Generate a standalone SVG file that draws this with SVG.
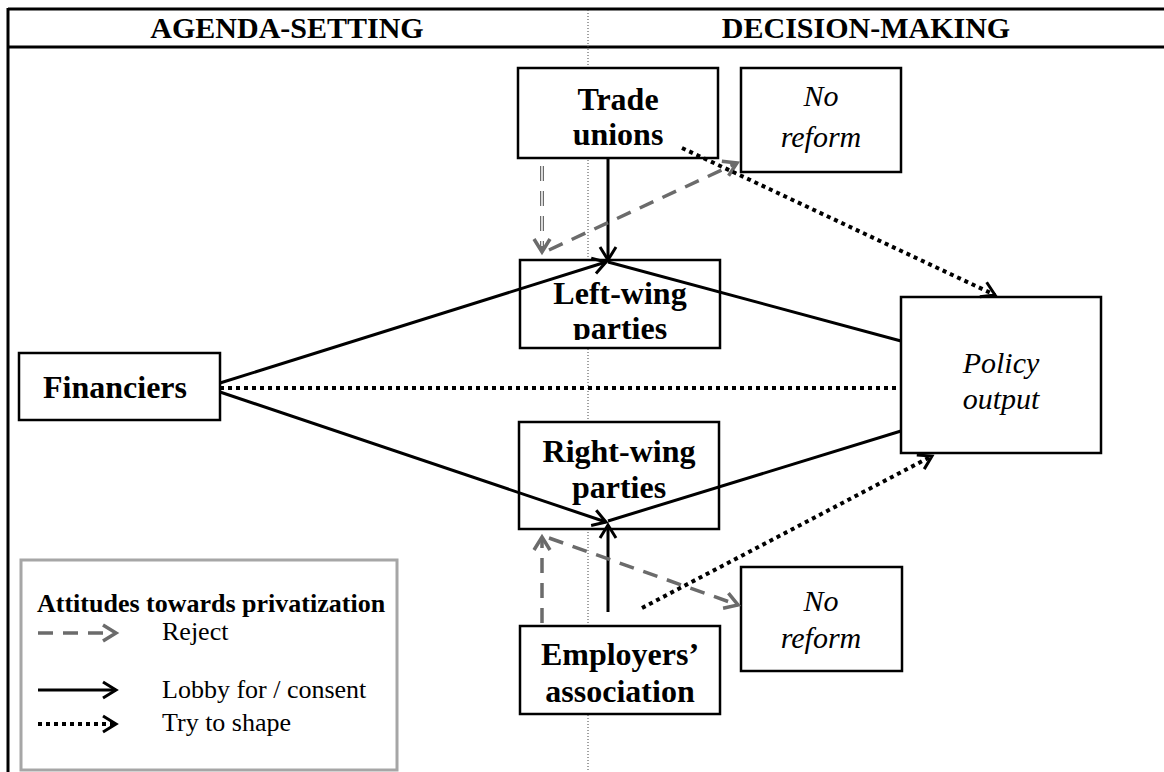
<svg xmlns="http://www.w3.org/2000/svg" width="1164" height="772" viewBox="0 0 1164 772">
  <style>
    .box { fill: #fff; stroke: #000; stroke-width: 2.5; }
    .bold { font-family: "Liberation Serif", "Times New Roman", serif; font-weight: bold; font-size: 32px; fill: #000; text-anchor: middle; }
    .ital { font-family: "Liberation Serif", "Times New Roman", serif; font-style: italic; font-size: 30px; fill: #000; text-anchor: middle; }
    .head { font-family: "Liberation Serif", "Times New Roman", serif; font-weight: bold; font-size: 30px; fill: #000; text-anchor: middle; }
    .leg { font-family: "Liberation Serif", "Times New Roman", serif; font-size: 26px; fill: #000; }
    .legt { font-family: "Liberation Serif", "Times New Roman", serif; font-weight: bold; font-size: 26px; fill: #000; }
    .solid { fill: none; stroke: #000; stroke-width: 3; }
    .dotted { fill: none; stroke: #000; stroke-width: 4; stroke-dasharray: 4 4; }
    .dashed { fill: none; stroke: #6b6b6b; stroke-width: 3.5; stroke-dasharray: 15 10; }
  </style>
  <defs>
    <marker id="ab" viewBox="0 0 20 20" refX="16" refY="10" markerWidth="20" markerHeight="20" markerUnits="userSpaceOnUse" orient="auto">
      <path d="M3,2 L16,10 L3,18" fill="none" stroke="#000" stroke-width="3"/>
    </marker>
    <marker id="ag" viewBox="0 0 20 20" refX="16" refY="10" markerWidth="20" markerHeight="20" markerUnits="userSpaceOnUse" orient="auto">
      <path d="M3,2 L16,10 L3,18" fill="none" stroke="#6b6b6b" stroke-width="3.5"/>
    </marker>
    <clipPath id="lwclip"><rect x="520" y="260" width="200" height="80"/></clipPath>
  </defs>

  <rect x="0" y="0" width="1164" height="772" fill="#fff"/>

  <g id="frame">
    <line x1="8" y1="9" x2="1164" y2="9" stroke="#000" stroke-width="3"/>
    <line x1="8" y1="47" x2="1164" y2="47" stroke="#000" stroke-width="3"/>
    <line x1="8" y1="8" x2="8" y2="772" stroke="#000" stroke-width="3"/>
    <line x1="588" y1="10" x2="588" y2="772" stroke="#444" stroke-width="1" stroke-dasharray="1 2"/>
    <text class="head" x="287" y="38">AGENDA-SETTING</text>
    <text class="head" x="866" y="38">DECISION-MAKING</text>
  </g>

  <g id="trade-unions">
    <rect class="box" x="518" y="68" width="200" height="90"/>
    <text class="bold" x="618" y="110">Trade</text>
    <text class="bold" x="618" y="145">unions</text>
  </g>
  <g id="no-reform-top">
    <rect class="box" x="741" y="68" width="160" height="104"/>
    <text class="ital" x="821" y="106">No</text>
    <text class="ital" x="821" y="147">reform</text>
  </g>
  <g id="left-wing">
    <rect class="box" x="520" y="260" width="200" height="88"/>
    <g clip-path="url(#lwclip)">
      <text class="bold" x="620" y="304">Left-wing</text>
      <text class="bold" x="620" y="339">parties</text>
    </g>
  </g>
  <g id="financiers">
    <rect class="box" x="19" y="353" width="201" height="67"/>
    <text class="bold" x="115" y="398">Financiers</text>
  </g>
  <g id="policy-output">
    <rect class="box" x="901" y="297" width="200" height="156"/>
    <text class="ital" x="1001" y="373">Policy</text>
    <text class="ital" x="1001" y="409">output</text>
  </g>
  <g id="right-wing">
    <rect class="box" x="519" y="422" width="200" height="107"/>
    <text class="bold" x="619" y="462">Right-wing</text>
    <text class="bold" x="619" y="498">parties</text>
  </g>
  <g id="employers">
    <rect class="box" x="520" y="626" width="200" height="88"/>
    <text class="bold" x="620" y="665">Employers’</text>
    <text class="bold" x="620" y="702">association</text>
  </g>
  <g id="no-reform-bottom">
    <rect class="box" x="741" y="567" width="161" height="104"/>
    <text class="ital" x="821" y="611">No</text>
    <text class="ital" x="821" y="648">reform</text>
  </g>

  <g id="connectors">
    <line class="solid" x1="608" y1="158" x2="608" y2="260" marker-end="url(#ab)"/>
    <line x1="542" y1="166" x2="542" y2="252" stroke="#6b6b6b" stroke-width="4" stroke-dasharray="15 10" marker-end="url(#ag)"/>
    <line x1="542" y1="166" x2="542" y2="246" stroke="#fff" stroke-width="1.5" stroke-dasharray="15 10"/>
    <line class="dashed" x1="549" y1="250" x2="737" y2="163" marker-end="url(#ag)"/>
    <line class="dotted" x1="682" y1="148" x2="995" y2="295" marker-end="url(#ab)"/>
    <line class="solid" x1="220" y1="383" x2="606" y2="262" marker-end="url(#ab)"/>
    <line class="solid" x1="608" y1="262" x2="901" y2="341"/>
    <line class="dotted" x1="220" y1="388" x2="901" y2="388"/>
    <line class="solid" x1="220" y1="392" x2="606" y2="522" marker-end="url(#ab)"/>
    <line class="solid" x1="608" y1="521" x2="901" y2="431"/>
    <line class="solid" x1="608" y1="612" x2="608" y2="525" marker-end="url(#ab)"/>
    <line class="dashed" x1="542" y1="623" x2="542" y2="537" marker-end="url(#ag)"/>
    <line class="dashed" x1="549" y1="538" x2="738" y2="605" marker-end="url(#ag)"/>
    <line class="dotted" x1="642" y1="608" x2="932" y2="456" marker-end="url(#ab)"/>
  </g>

  <g id="legend">
    <rect x="21" y="560" width="376" height="210" fill="#fff" stroke="#a6a6a6" stroke-width="3"/>
    <text class="legt" x="37" y="612">Attitudes towards privatization</text>
    <line class="dashed" x1="38" y1="633" x2="116" y2="633" stroke-dasharray="15 12" marker-end="url(#ag)"/>
    <text class="leg" x="162" y="640">Reject</text>
    <line class="solid" x1="38" y1="690" x2="116" y2="690" marker-end="url(#ab)"/>
    <text class="leg" x="162" y="698">Lobby for / consent</text>
    <line class="dotted" x1="38" y1="724" x2="116" y2="724" stroke-width="3.5" stroke-dasharray="3 2" marker-end="url(#ab)"/>
    <text class="leg" x="162" y="731">Try to shape</text>
  </g>
</svg>
